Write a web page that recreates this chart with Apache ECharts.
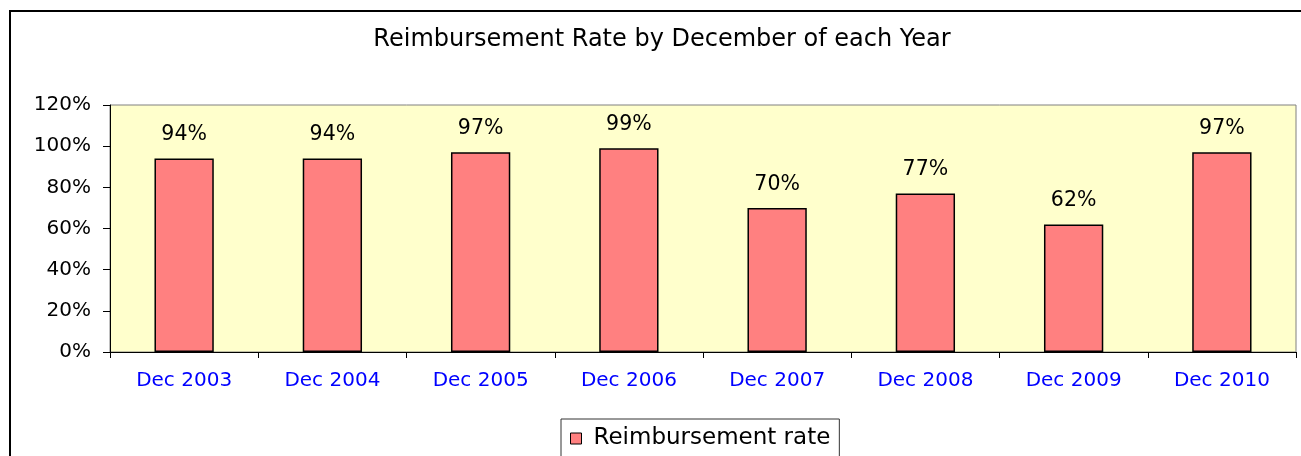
<!DOCTYPE html>
<html>
<head>
<meta charset="utf-8">
<script src="https://cdn.jsdelivr.net/npm/echarts@6/dist/echarts.min.js"></script>
<style>
html,body{margin:0;padding:0;background:#fff;}
#chart{width:1301px;height:456px;}
</style>
</head>
<body>
<div id="chart"></div>
<script>
const categories = ['Dec 2003','Dec 2004','Dec 2005','Dec 2006','Dec 2007','Dec 2008','Dec 2009','Dec 2010'];
const rates = [94, 94, 97, 99, 70, 77, 62, 97];
const seriesName = 'Reimbursement rate';
const titleText = 'Reimbursement Rate by December of each Year';
const yMin = 0, yMax = 120, yStep = 20;

const FONT = 'DejaVu Sans';
const chart = echarts.init(document.getElementById('chart'), null, {renderer:'canvas'});
chart.setOption({
  animation: false,
  backgroundColor: '#ffffff',
  title: {
    text: titleText,
    left: 662, top: 28, textAlign: 'center', padding: 0,
    textStyle: {fontFamily: FONT, fontSize: 24, fontWeight: 'normal', color: '#000'}
  },
  graphic: [{
    type: 'rect', z: 100, silent: true,
    shape: {x: 10, y: 11, width: 1400, height: 600},
    style: {fill: 'none', stroke: '#000', lineWidth: 2}
  }],
  legend: {
    data: [seriesName],
    left: 561, top: 419,
    padding: [8, 9, 20, 9],
    borderColor: '#333', borderWidth: 1,
    icon: 'rect', itemWidth: 11, itemHeight: 11,
    itemStyle: {borderColor: '#000', borderWidth: 1},
    textStyle: {fontFamily: FONT, fontSize: 23, color: '#000', padding: [0, 0, 0, 7]}
  },
  grid: {
    left: 110, right: 5, top: 105, bottom: 104,
    show: true, backgroundColor: '#FFFFCC', borderColor: '#808080', borderWidth: 1
  },
  xAxis: {
    type: 'category', data: categories, boundaryGap: true,
    axisLine: {lineStyle: {color: '#000', width: 1}},
    axisTick: {show: true, length: 6, alignWithLabel: false, lineStyle: {color: '#000'}},
    axisLabel: {margin: 19, color: '#0000FF', fontFamily: FONT, fontSize: 20, interval: 0},
    splitLine: {show: false}
  },
  yAxis: {
    type: 'value', min: yMin, max: yMax, interval: yStep,
    axisLine: {show: true, lineStyle: {color: '#000', width: 1}},
    axisTick: {show: true, length: 7, lineStyle: {color: '#000'}},
    axisLabel: {margin: 19, color: '#000', fontFamily: FONT, fontSize: 20, formatter: '{value}%'},
    splitLine: {show: false}
  },
  series: [{
    name: seriesName, type: 'bar', data: rates, barWidth: '40%',
    itemStyle: {color: '#FF8080', borderColor: '#000', borderWidth: 1.5},
    label: {
      show: true, position: 'top', distance: 13, formatter: '{c}%',
      color: '#000', fontFamily: FONT, fontSize: 20.5
    }
  }]
});
</script>
</body>
</html>
